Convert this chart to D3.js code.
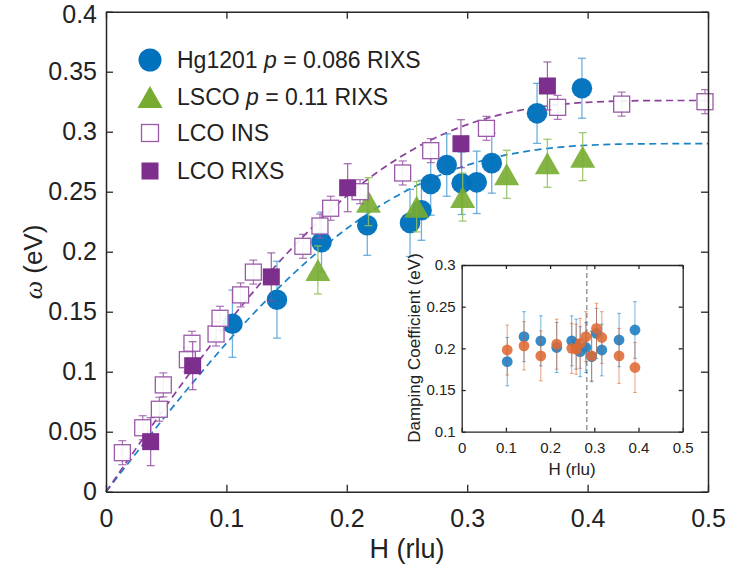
<!DOCTYPE html>
<html><head><meta charset="utf-8">
<script src="https://cdn.jsdelivr.net/npm/d3@7"></script>
<style>
body{margin:0;background:#fff}
svg{display:block}
text{font-family:"Liberation Sans",Arial,Helvetica,sans-serif;fill:#222}
</style>
</head><body>
<svg id="chart" width="730" height="575"></svg>
<script>
// ---------- Main panel data ----------
const hgH   = [0.105,0.142,0.179,0.217,0.2525,0.262,0.2697,0.283,0.2954,0.3079,0.3204,0.358,0.3953];
const hgW   = [0.140,0.160,0.208,0.222,0.224,0.2345,0.2564,0.2722,0.257,0.2578,0.2738,0.3153,0.3362];
const hgErr = [0.028,0.032,0.025,0.025,0.028,0.025,0.026,0.026,0.026,0.026,0.025,0.025,0.025];

const lscoH   = [0.176,0.218,0.258,0.2962,0.3328,0.3666,0.3959];
const lscoW   = [0.1848,0.2417,0.2375,0.2455,0.2645,0.2737,0.2792];
const lscoErr = [0.02,0.02,0.021,0.02,0.02,0.02,0.02];

const insH   = [0.0136,0.0305,0.0443,0.0476,0.0676,0.0714,0.0914,0.0947,0.1118,0.1224,0.1635,0.1777,0.1866,0.211,0.2464,0.2697,0.3160,0.3751,0.4283,0.4975];
const insW   = [0.0325,0.0533,0.0687,0.089,0.110,0.1237,0.1314,0.1445,0.164,0.183,0.2045,0.2214,0.2362,0.250,0.2656,0.2842,0.3028,0.3203,0.323,0.325];
const insErr = [0.01,0.01,0.01,0.01,0.01,0.01,0.01,0.01,0.01,0.01,0.01,0.01,0.01,0.01,0.01,0.01,0.01,0.01,0.01,0.01];

const lrxH   = [0.0371,0.072,0.1373,0.2007,0.2948,0.3666];
const lrxW   = [0.0417,0.105,0.179,0.2533,0.2900,0.3381];
const lrxErr = [0.02,0.02,0.02,0.02,0.02,0.02];

// dashed dispersion curves
const curveH      = [0,0.025,0.05,0.075,0.1,0.125,0.15,0.175,0.2,0.225,0.25,0.275,0.3,0.325,0.35,0.375,0.4,0.425,0.45,0.475,0.5];
const curveLCO    = [0,0.0361,0.0717,0.1061,0.1390,0.1698,0.1982,0.2238,0.2465,0.2660,0.2823,0.2956,0.3059,0.3136,0.3190,0.3225,0.3245,0.3255,0.3259,0.3260,0.3260];
const curveHg     = [0,0.0321,0.0638,0.0944,0.1237,0.1511,0.1763,0.1991,0.2193,0.2366,0.2511,0.2629,0.2721,0.2790,0.2838,0.2869,0.2887,0.2896,0.2899,0.2900,0.2900];

const xTicks = [0,0.1,0.2,0.3,0.4,0.5];
const xTickLabels = ["0","0.1","0.2","0.3","0.4","0.5"];
const yTicks = [0,0.05,0.1,0.15,0.2,0.25,0.3,0.35,0.4];
const yTickLabels = ["0","0.05","0.1","0.15","0.2","0.25","0.3","0.35","0.4"];

const legendLabels = [
  ["Hg1201 ","p"," = 0.086 RIXS"],
  ["LSCO ","p"," = 0.11 RIXS"],
  ["LCO INS"],
  ["LCO RIXS"]
];

// ---------- Inset data ----------
const inH      = [0.103,0.141,0.179,0.215,0.249,0.259,0.268,0.281,0.294,0.305,0.317,0.356,0.392];
const inBlue   = [0.184,0.214,0.209,0.201,0.209,0.205,0.196,0.201,0.190,0.218,0.198,0.210,0.222];
const inBlueE  = [0.029,0.030,0.030,0.030,0.030,0.030,0.030,0.030,0.030,0.030,0.031,0.032,0.034];
const inOrange = [0.198,0.203,0.191,0.205,0.200,0.199,0.206,0.214,0.191,0.224,0.213,0.191,0.177];
const inOrangeE= [0.030,0.029,0.030,0.030,0.030,0.030,0.030,0.030,0.030,0.030,0.031,0.033,0.030];
const inVLine  = 0.283;
const inXTicks = [0,0.1,0.2,0.3,0.4,0.5];
const inXTickLabels = ["0","0.1","0.2","0.3","0.4","0.5"];
const inYTicks = [0.1,0.15,0.2,0.25,0.3];
const inYTickLabels = ["0.1","0.15","0.2","0.25","0.3"];

// ---------- colours ----------
const BLUE="#0072BD", GREEN="#77AC30", PURPLE="#7E2F8E", ORANGE="#D95319", AXC="#262626";

const svg = d3.select("#chart");

// ---------- Main scales ----------
const x = d3.scaleLinear().domain([0,0.5]).range([106,708]);
const y = d3.scaleLinear().domain([0,0.4]).range([491.7,11.7]);

// dashed curves
const line = d3.line().x(d=>x(d[0])).y(d=>y(d[1])).curve(d3.curveMonotoneX);
svg.append("path").attr("d", line(curveH.map((h,i)=>[h,curveHg[i]])))
  .attr("fill","none").attr("stroke","#1a82c8").attr("stroke-width",1.7).attr("stroke-dasharray","7,4.5");
svg.append("path").attr("d", line(curveH.map((h,i)=>[h,curveLCO[i]])))
  .attr("fill","none").attr("stroke","#8a3f9a").attr("stroke-width",1.7).attr("stroke-dasharray","7,4.5");

function errorBars(g, H, W, E, color, capW, opacity, sw){
  const gg = g.append("g").attr("stroke",color).attr("stroke-opacity",opacity).attr("stroke-width",sw).attr("fill","none");
  H.forEach((h,i)=>{
    const cx=x(h), y0=y(W[i]-E[i]), y1=y(W[i]+E[i]);
    gg.append("line").attr("x1",cx).attr("x2",cx).attr("y1",y0).attr("y2",y1);
    gg.append("line").attr("x1",cx-capW/2).attr("x2",cx+capW/2).attr("y1",y0).attr("y2",y0);
    gg.append("line").attr("x1",cx-capW/2).attr("x2",cx+capW/2).attr("y1",y1).attr("y2",y1);
  });
}
const tri = (w,h)=>`M0,${-h/2}L${w/2},${h/2}L${-w/2},${h/2}Z`;

const gm = svg.append("g");
// Hg1201
errorBars(gm, hgH, hgW, hgErr, "#3d95d3", 8, 0.75, 1.3);
gm.selectAll("circle.hg").data(hgH).join("circle").attr("class","hg")
  .attr("cx",(d)=>x(d)).attr("cy",(d,i)=>y(hgW[i])).attr("r",10.3).attr("fill",BLUE).attr("fill-opacity",0.97);
// LSCO
errorBars(gm, lscoH, lscoW, lscoErr, "#8fbf5a", 8, 0.85, 1.3);
gm.selectAll("path.ls").data(lscoH).join("path").attr("class","ls")
  .attr("transform",(d,i)=>`translate(${x(d)},${y(lscoW[i])})`).attr("d",tri(25,22))
  .attr("fill",GREEN).attr("fill-opacity",0.9);
// LCO INS
errorBars(gm, insH, insW, insErr, "#9a5aa8", 8, 0.85, 1.2);
gm.selectAll("rect.ins").data(insH).join("rect").attr("class","ins")
  .attr("x",d=>x(d)-8).attr("y",(d,i)=>y(insW[i])-8).attr("width",16).attr("height",16)
  .attr("fill","#fff").attr("fill-opacity",0.9).attr("stroke","#9a5aa8").attr("stroke-width",1.3);
// LCO RIXS
errorBars(gm, lrxH, lrxW, lrxErr, "#8e4a9c", 8, 0.85, 1.2);
gm.selectAll("rect.lrx").data(lrxH).join("rect").attr("class","lrx")
  .attr("x",d=>x(d)-8.5).attr("y",(d,i)=>y(lrxW[i])-8.5).attr("width",17).attr("height",17)
  .attr("fill",PURPLE);

// ---------- Main axes ----------
function styleAxis(g, fs){
  g.select(".domain").attr("stroke",AXC).attr("stroke-width",1.5);
  g.selectAll(".tick line").attr("stroke",AXC).attr("stroke-width",1.3);
  g.selectAll(".tick text").attr("fill","#222").style("font-size",fs+"px").style("font-family","'Liberation Sans',Arial,sans-serif");
}
const fmtX = d=>xTickLabels[xTicks.indexOf(d)];
const fmtY = d=>yTickLabels[yTicks.indexOf(d)];
const axB = svg.append("g").attr("transform","translate(0,491.7)")
  .call(d3.axisBottom(x).tickValues(xTicks).tickFormat(fmtX).tickSizeInner(-7).tickSizeOuter(0).tickPadding(18));
styleAxis(axB,25);
const axT = svg.append("g").attr("transform","translate(0,11.7)")
  .call(d3.axisTop(x).tickValues(xTicks).tickFormat("").tickSizeInner(-7).tickSizeOuter(0));
styleAxis(axT,25);
const axL = svg.append("g").attr("transform","translate(106,0)")
  .call(d3.axisLeft(y).tickValues(yTicks).tickFormat(fmtY).tickSizeInner(-7).tickSizeOuter(0).tickPadding(9));
styleAxis(axL,25);
// keep the topmost label inside the picture
axL.selectAll(".tick text").filter(d=>d===yTicks[yTicks.length-1]).attr("y",3);
const axR = svg.append("g").attr("transform","translate(708,0)")
  .call(d3.axisRight(y).tickValues(yTicks).tickFormat("").tickSizeInner(-7).tickSizeOuter(0));
styleAxis(axR,25);

svg.append("text").attr("x",407).attr("y",558).attr("text-anchor","middle")
  .style("font-size","27px").text("H (rlu)");
const yl = svg.append("text").attr("transform","translate(42,262) rotate(-90)").attr("text-anchor","middle")
  .style("font-size","26px");
yl.append("tspan").style("font-family","'Liberation Serif','DejaVu Serif',serif").style("font-style","italic").text("ω");
yl.append("tspan").text(" (eV)");

// ---------- Legend ----------
const legY = [60,97,133,171];
const lg = svg.append("g");
lg.append("circle").attr("cx",150).attr("cy",legY[0]).attr("r",11.5).attr("fill",BLUE);
lg.append("path").attr("transform",`translate(150,${legY[1]})`).attr("d",tri(25,22)).attr("fill",GREEN);
lg.append("rect").attr("x",141.5).attr("y",legY[2]-8.5).attr("width",17).attr("height",17).attr("fill","#fff").attr("stroke","#9a5aa8").attr("stroke-width",1.3);
lg.append("rect").attr("x",141.5).attr("y",legY[3]-8.5).attr("width",17).attr("height",17).attr("fill",PURPLE);
legendLabels.forEach((parts,i)=>{
  const t = lg.append("text").attr("x",177).attr("y",legY[i]).attr("dy","0.36em").style("font-size","23px");
  parts.forEach((p,j)=>{
    const ts = t.append("tspan").text(p);
    if(parts.length>1 && j===1) ts.style("font-style","italic");
  });
});

// ---------- Inset ----------
const xi = d3.scaleLinear().domain([0,0.5]).range([461.7,682.7]);
const yi = d3.scaleLinear().domain([0.1,0.3]).range([431.7,265]);
svg.append("rect").attr("x",461.7).attr("y",265).attr("width",221).attr("height",166.7).attr("fill","#fff");
svg.append("line").attr("x1",xi(inVLine)).attr("x2",xi(inVLine)).attr("y1",yi(0.3)).attr("y2",yi(0.1))
  .attr("stroke","#9a9a9a").attr("stroke-width",1.5).attr("stroke-dasharray","5,3");

function inErr(H,V,E,color){
  const gg = svg.append("g").attr("stroke",color).attr("stroke-opacity",0.55).attr("stroke-width",1);
  H.forEach((h,i)=>{
    const cx=xi(h), y0=yi(V[i]-E[i]), y1=yi(V[i]+E[i]);
    gg.append("line").attr("x1",cx).attr("x2",cx).attr("y1",y0).attr("y2",y1);
    gg.append("line").attr("x1",cx-1.8).attr("x2",cx+1.8).attr("y1",y0).attr("y2",y0);
    gg.append("line").attr("x1",cx-1.8).attr("x2",cx+1.8).attr("y1",y1).attr("y2",y1);
  });
}
inErr(inH,inBlue,inBlueE,BLUE);
svg.append("g").selectAll("circle").data(inH).join("circle")
  .attr("cx",d=>xi(d)).attr("cy",(d,i)=>yi(inBlue[i])).attr("r",5.4).attr("fill","#1f7fc4").attr("fill-opacity",0.9);
inErr(inH,inOrange,inOrangeE,ORANGE);
svg.append("g").selectAll("circle").data(inH).join("circle")
  .attr("cx",d=>xi(d)).attr("cy",(d,i)=>yi(inOrange[i])).attr("r",5.4).attr("fill","#DE6A33").attr("fill-opacity",0.88);

const fmtIX = d=>inXTickLabels[inXTicks.indexOf(d)];
const fmtIY = d=>inYTickLabels[inYTicks.indexOf(d)];
const iB = svg.append("g").attr("transform","translate(0,431.7)")
  .call(d3.axisBottom(xi).tickValues(inXTicks).tickFormat(fmtIX).tickSizeInner(-4).tickSizeOuter(0).tickPadding(11));
styleAxis(iB,15);
const iT = svg.append("g").attr("transform","translate(0,265)")
  .call(d3.axisTop(xi).tickValues(inXTicks).tickFormat("").tickSizeInner(-4).tickSizeOuter(0));
styleAxis(iT,15);
const iL = svg.append("g").attr("transform","translate(461.7,0)")
  .call(d3.axisLeft(yi).tickValues(inYTicks).tickFormat(fmtIY).tickSizeInner(-4).tickSizeOuter(0).tickPadding(6));
styleAxis(iL,15);
const iR = svg.append("g").attr("transform","translate(682.7,0)")
  .call(d3.axisRight(yi).tickValues(inYTicks).tickFormat("").tickSizeInner(-4).tickSizeOuter(0));
styleAxis(iR,15);
[iB,iT,iL,iR].forEach(g=>g.select(".domain").attr("stroke-width",1.3));

svg.append("text").attr("x",572).attr("y",475).attr("text-anchor","middle").style("font-size","17px").text("H (rlu)");
svg.append("text").attr("transform","translate(420,348) rotate(-90)").attr("text-anchor","middle")
  .style("font-size","17px").text("Damping Coefficient (eV)");
</script>
</body></html>
